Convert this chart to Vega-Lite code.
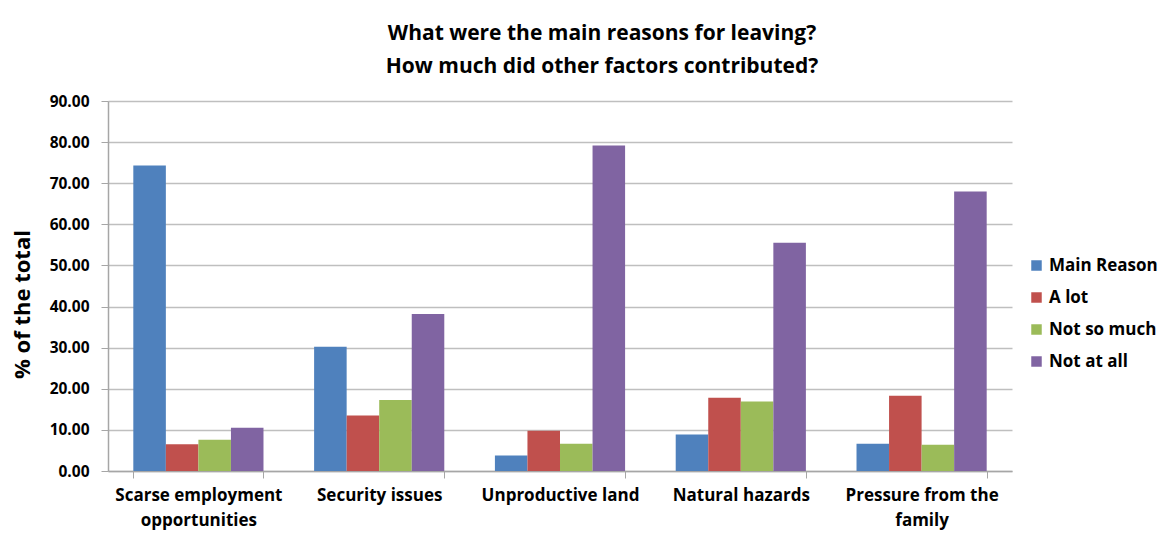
{
  "$schema": "https://vega.github.io/schema/vega-lite/v6.json",
  "autosize": "none",
  "width": 904,
  "height": 370,
  "padding": {"left": 108, "top": 101, "right": 147, "bottom": 77},
  "background": "white",
  "title": {
    "text": ["What were the main reasons for leaving?", "How much did other factors contributed?"],
    "font": "Open Sans",
    "fontSize": 21,
    "fontWeight": "bold",
    "color": "#000000",
    "lineHeight": 33,
    "anchor": "middle",
    "dx": 42,
    "offset": 17
  },
  "data": {
    "values": [
      {"reason": "Scarse employment opportunities", "answer": "Main Reason", "pct": 74.3},
      {"reason": "Scarse employment opportunities", "answer": "A lot", "pct": 6.5},
      {"reason": "Scarse employment opportunities", "answer": "Not so much", "pct": 7.6},
      {"reason": "Scarse employment opportunities", "answer": "Not at all", "pct": 10.5},
      {"reason": "Security issues", "answer": "Main Reason", "pct": 30.2},
      {"reason": "Security issues", "answer": "A lot", "pct": 13.5},
      {"reason": "Security issues", "answer": "Not so much", "pct": 17.3},
      {"reason": "Security issues", "answer": "Not at all", "pct": 38.2},
      {"reason": "Unproductive land", "answer": "Main Reason", "pct": 3.8},
      {"reason": "Unproductive land", "answer": "A lot", "pct": 9.8},
      {"reason": "Unproductive land", "answer": "Not so much", "pct": 6.6},
      {"reason": "Unproductive land", "answer": "Not at all", "pct": 79.2},
      {"reason": "Natural hazards", "answer": "Main Reason", "pct": 8.9},
      {"reason": "Natural hazards", "answer": "A lot", "pct": 17.8},
      {"reason": "Natural hazards", "answer": "Not so much", "pct": 16.9},
      {"reason": "Natural hazards", "answer": "Not at all", "pct": 55.5},
      {"reason": "Pressure from the family", "answer": "Main Reason", "pct": 6.6},
      {"reason": "Pressure from the family", "answer": "A lot", "pct": 18.3},
      {"reason": "Pressure from the family", "answer": "Not so much", "pct": 6.4},
      {"reason": "Pressure from the family", "answer": "Not at all", "pct": 68.0}
    ]
  },
  "mark": {"type": "bar"},
  "encoding": {
    "x": {
      "field": "reason",
      "type": "nominal",
      "sort": null,
      "scale": {"paddingInner": 0.28, "paddingOuter": 0.14},
      "axis": {
        "title": null,
        "labelAngle": 0,
        "labelFont": "Open Sans",
        "labelFontSize": 17,
        "labelFontWeight": "bold",
        "labelColor": "#000000",
        "labelLineHeight": 25,
        "labelPadding": 9,
        "labelLimit": 250,
        "labelExpr": "datum.value == 'Scarse employment opportunities' ? ['Scarse employment', 'opportunities'] : datum.value == 'Pressure from the family' ? ['Pressure from the', 'family'] : datum.value",
        "tickBand": "extent",
        "tickSize": 7,
        "tickColor": "#A6A6A6",
        "domainColor": "#A6A6A6",
        "domainWidth": 1.5,
        "grid": false
      }
    },
    "xOffset": {
      "field": "answer",
      "type": "nominal",
      "sort": ["Main Reason", "A lot", "Not so much", "Not at all"],
      "scale": {"paddingInner": 0, "paddingOuter": 0}
    },
    "y": {
      "field": "pct",
      "type": "quantitative",
      "scale": {"domain": [0, 90], "nice": false},
      "axis": {
        "title": "% of the total",
        "titleFont": "Open Sans",
        "titleFontSize": 22,
        "titleFontWeight": "bold",
        "titleColor": "#000000",
        "titleX": -86,
        "titleY": 203,
        "titleAngle": -90,
        "titleAlign": "center",
        "titleBaseline": "middle",
        "values": [0, 10, 20, 30, 40, 50, 60, 70, 80, 90],
        "format": ".2f",
        "labelFont": "Open Sans",
        "labelFontSize": 15.5,
        "labelFontWeight": "bold",
        "labelColor": "#000000",
        "labelPadding": 12,
        "tickSize": 7,
        "tickColor": "#A6A6A6",
        "domainColor": "#A6A6A6",
        "domainWidth": 1.5,
        "gridColor": "#BFBFBF",
        "gridWidth": 1.5
      }
    },
    "color": {
      "field": "answer",
      "type": "nominal",
      "sort": ["Main Reason", "A lot", "Not so much", "Not at all"],
      "scale": {
        "domain": ["Main Reason", "A lot", "Not so much", "Not at all"],
        "range": ["#4F81BD", "#C0504D", "#9BBB59", "#8064A2"]
      },
      "legend": {
        "title": null,
        "orient": "none",
        "legendX": 920,
        "legendY": 156,
        "symbolType": "square",
        "symbolSize": 110,
        "symbolStrokeWidth": 0,
        "labelFont": "Open Sans",
        "labelFontSize": 17,
        "labelFontWeight": "bold",
        "labelColor": "#000000",
        "labelOffset": 4,
        "rowPadding": 14,
        "labelLimit": 200
      }
    }
  },
  "config": {
    "view": {"stroke": null}
  }
}
